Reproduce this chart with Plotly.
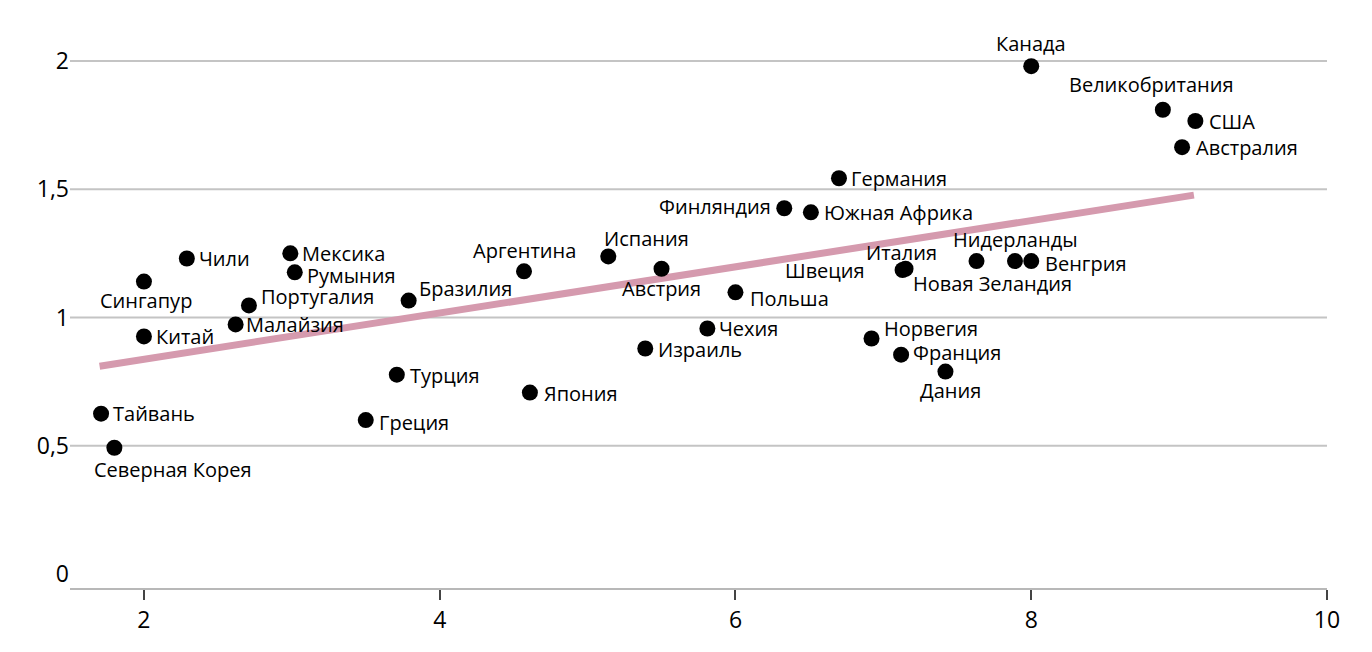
import plotly.graph_objects as go

# страны и значения
countries = [
    "Канада", "Великобритания", "США", "Австралия", "Германия", "Финляндия",
    "Южная Африка", "Испания", "Аргентина", "Австрия", "Бразилия", "Польша",
    "Чехия", "Израиль", "Япония", "Турция", "Греция", "Чили", "Мексика",
    "Румыния", "Сингапур", "Португалия", "Малайзия", "Китай", "Тайвань",
    "Северная Корея", "Швеция", "Италия", "Новая Зеландия", "Нидерланды",
    "Венгрия", "Норвегия", "Франция", "Дания",
]
x_vals = [
    8.0, 8.89, 9.11, 9.02, 6.70, 6.33,
    6.51, 5.14, 4.57, 5.50, 3.79, 6.00,
    5.81, 5.39, 4.61, 3.71, 3.50, 2.29, 2.99,
    3.02, 2.0, 2.71, 2.62, 2.0, 1.71,
    1.80, 7.13, 7.15, 7.63, 7.89,
    8.0, 6.92, 7.12, 7.42,
]
y_vals = [
    1.98, 1.81, 1.766, 1.664, 1.543, 1.426,
    1.41, 1.238, 1.18, 1.19, 1.066, 1.098,
    0.957, 0.879, 0.707, 0.777, 0.60, 1.23, 1.25,
    1.176, 1.14, 1.047, 0.973, 0.926, 0.625,
    0.492, 1.185, 1.19, 1.22, 1.22,
    1.22, 0.918, 0.855, 0.789,
]

# линия тренда (концы)
trend_x = [1.7, 9.1]
trend_y = [0.81, 1.477]

y_ticks = [0, 0.5, 1, 1.5, 2]
y_tick_text = ["0", "0,5", "1", "1,5", "2"]
x_ticks = [2, 4, 6, 8, 10]
grid_vals = [0.5, 1, 1.5, 2]

# размещение подписей: (привязка, сдвиг по x в px, сдвиг вниз в px)
R = "left"
L = "right"
C = "center"
label_place = {
    "Канада": (C, 0, -23), "Великобритания": (C, -11, -25),
    "США": (R, 12, 0), "Австралия": (R, 12, 0), "Германия": (R, 10, 0),
    "Финляндия": (L, -11, -2), "Южная Африка": (R, 11, 0),
    "Испания": (R, -6, -18), "Аргентина": (C, 0, -21), "Австрия": (C, 0, 20),
    "Бразилия": (R, 8, -12), "Польша": (R, 13, 6), "Чехия": (R, 10, 0),
    "Израиль": (R, 11, 1), "Япония": (R, 12, 1), "Турция": (R, 11, 1),
    "Греция": (R, 11, 2), "Чили": (R, 10, 0), "Мексика": (R, 10, 0),
    "Румыния": (R, 10, 3), "Сингапур": (C, 2, 19), "Португалия": (R, 10, -9),
    "Малайзия": (R, 8, 0), "Китай": (R, 10, 0), "Тайвань": (R, 10, 0),
    "Северная Корея": (R, -22, 22), "Швеция": (L, -36, 0), "Италия": (C, -4, -16),
    "Новая Зеландия": (C, 16, 22), "Нидерланды": (C, 1, -22),
    "Венгрия": (R, 12, 2), "Норвегия": (R, 10, -10), "Франция": (R, 10, -2),
    "Дания": (C, 5, 19),
}

FONT = "Open Sans"

fig = go.Figure()

fig.add_trace(go.Scatter(
    x=trend_x, y=trend_y, mode="lines",
    line=dict(color="#d59aae", width=7),
    hoverinfo="skip", showlegend=False,
))

fig.add_trace(go.Scatter(
    x=x_vals, y=y_vals, mode="markers", text=countries,
    hovertemplate="%{text}<extra></extra>",
    marker=dict(size=16, color="#000000"),
    showlegend=False,
))

for name, xv, yv in zip(countries, x_vals, y_vals):
    anchor, dx, dy = label_place[name]
    fig.add_annotation(
        x=xv, y=yv, text=name, showarrow=False,
        xanchor=anchor, yanchor="middle", xshift=dx, yshift=-dy,
        font=dict(family=FONT, size=20, color="#000000"),
    )

for g in grid_vals:
    fig.add_shape(type="line", xref="paper", x0=0, x1=1, yref="y", y0=g, y1=g,
                  line=dict(color="#c4c4c4", width=2), layer="below")

fig.update_layout(
    width=1372, height=652,
    margin=dict(l=62, r=53, t=12, b=72),
    plot_bgcolor="white", paper_bgcolor="white",
    font=dict(family=FONT, size=23, color="#000000"),
    xaxis=dict(
        range=[1.5, 10], tickvals=x_ticks, showgrid=False, zeroline=False,
        showline=True, linecolor="#b8b8b8", linewidth=2,
        ticks="outside", ticklen=10, tickwidth=2, tickcolor="#444444",
        tickfont=dict(family=FONT, size=23),
    ),
    yaxis=dict(
        range=[-0.055, 2.16], tickvals=y_ticks, ticktext=y_tick_text,
        showgrid=False, zeroline=False, showline=False, ticks="",
        tickfont=dict(family=FONT, size=23),
    ),
)

fig.write_html("out.html")
